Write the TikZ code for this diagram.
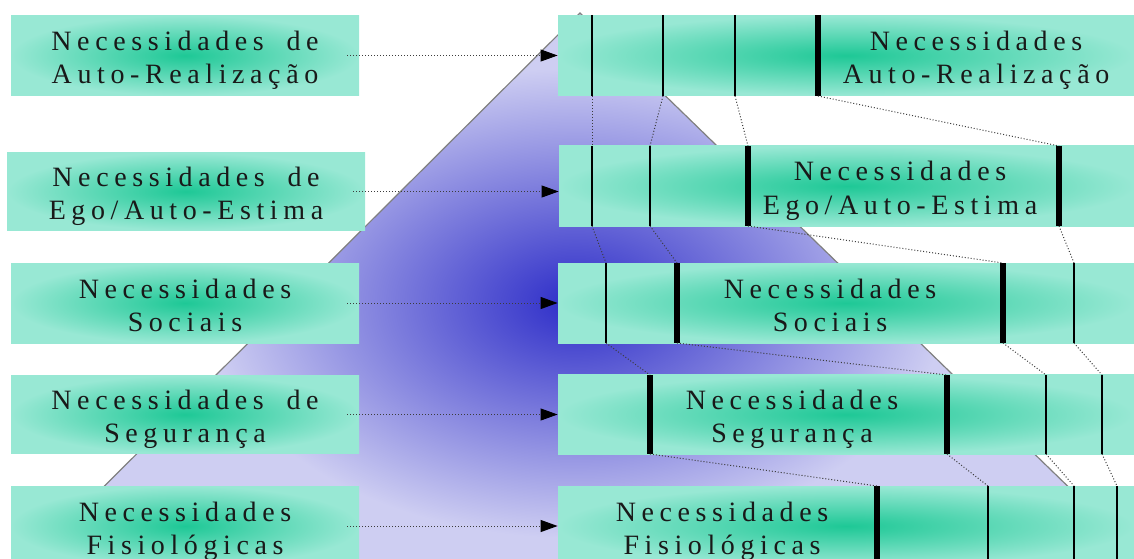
\documentclass[tikz,border=0pt]{standalone}
\usepackage{fontspec}
\setmainfont{Liberation Serif}[LetterSpace=20,WordSpace=1.8]
\usetikzlibrary{arrows.meta,positioning}

\definecolor{glowin}{RGB}{30,200,150}
\definecolor{glowout}{RGB}{152,232,212}
\definecolor{pyrdark}{RGB}{45,45,200}
\definecolor{pyrlight}{RGB}{206,206,242}
\definecolor{wire}{RGB}{60,60,60}

\tikzset{
  needbox/.style={rectangle,inner sep=0pt,inner color=glowin,outer color=glowout,
    minimum width=174pt,minimum height=40pt,align=center,
    text height=31pt,text depth=3pt,
    font=\fontsize{14}{16.5}\selectfont,text=black!90},
  levelbox/.style={rectangle,inner sep=0pt,inner color=glowin,outer color=glowout,
    minimum width=288pt,minimum height=40pt},
  levellabel/.style={align=center,inner sep=0pt,text height=31pt,text depth=3pt,
    font=\fontsize{14}{16.5}\selectfont,text=black!90},
  thinbar/.style={line width=0.75pt,black},
  thickbar/.style={line width=3pt,black},
  link/.style={wire,line width=0.5pt,densely dotted},
  feed/.style={wire,line width=0.5pt,densely dotted,-{Triangle[length=8.5pt,width=6pt,black]}}
}

\begin{document}
\begin{tikzpicture}[x=0.5pt,y=0.5pt,node distance=330.5pt]
  \useasboundingbox (0,0) rectangle (1134,558);
  \clip (0,0) rectangle (1134,558);
  % pyramid in the back
  \coordinate (apex) at (580,545);
  \coordinate (baseL) at (22,-10);
  \coordinate (baseR) at (1152,-10);
  \begin{scope}
    \clip (apex) -- (baseL) -- (baseR) -- cycle;
    \fill[pyrlight] (apex) -- (baseL) -- (baseR) -- cycle;
    \shade[inner color=pyrdark,outer color=pyrlight] (575,255) ellipse [x radius=370,y radius=235];
  \end{scope}
  \draw[gray,line width=0.6pt] (baseL) -- (apex) -- (baseR);

  % needs on the left
  \node[needbox] (l1) at (185,502.5) {Necessidades de\\Auto-Realização};
  \node[needbox,minimum width=179pt,minimum height=38.5pt] (l2) at (186,366.5) {Necessidades de\\Ego/Auto-Estima};
  \node[needbox] (l3) at (185,255) {Necessidades\\Sociais};
  \node[needbox,minimum height=39pt] (l4) at (185,143.5) {Necessidades de\\Segurança};
  \node[needbox] (l5) at (185,32) {Necessidades\\Fisiológicas};

  % levels on the right
  \node[levelbox,right of=l1] (r1) {};
  \node[levelbox,right of=l2,yshift=2.75pt] (r2) {};
  \node[levelbox,right of=l3] (r3) {};
  \node[levelbox,right of=l4] (r4) {};
  \node[levelbox,right of=l5] (r5) {};

  \foreach \rw/\ytop/\ybot/\bars in {
      1/543/462/{592/thinbar,663/thinbar,735/thinbar,818/thickbar},
      2/412/332/{592/thinbar,650/thinbar,748/thickbar,1059/thickbar},
      3/295/215/{606/thinbar,677/thickbar,1003/thickbar,1074/thinbar},
      4/183/104/{650/thickbar,947/thickbar,1046/thinbar,1102/thinbar},
      5/72/-8/{877/thickbar,988/thinbar,1074/thinbar,1117/thinbar}}
    \foreach \bx/\bw [count=\k] in \bars
      \draw[\bw] (\bx,\ytop) coordinate (r\rw t\k) -- (\bx,\ybot) coordinate (r\rw b\k);

  % bars shift from level to level
  \foreach \rw [evaluate=\rw as \nx using int(\rw+1)] in {1,...,4}
    \foreach \k in {1,...,4}
      \draw[link] (r\rw b\k) -- (r\nx t\k);

  \node[levellabel] (t1) at (976,502.5) {Necessidades\\Auto-Realização};
  \node[levellabel] (t2) at (900,372) {Necessidades\\Ego/Auto-Estima};
  \node[levellabel] (t3) at (830,255) {Necessidades\\Sociais};
  \node[levellabel] (t4) at (792,143.5) {Necessidades\\Segurança};
  \node[levellabel] (t5) at (722,32) {Necessidades\\Fisiológicas};

  \foreach \n in {1,...,5}
    \draw[feed] ([xshift=-6pt]l\n.east) -- (l\n.east -| r\n.west);
\end{tikzpicture}
\end{document}
